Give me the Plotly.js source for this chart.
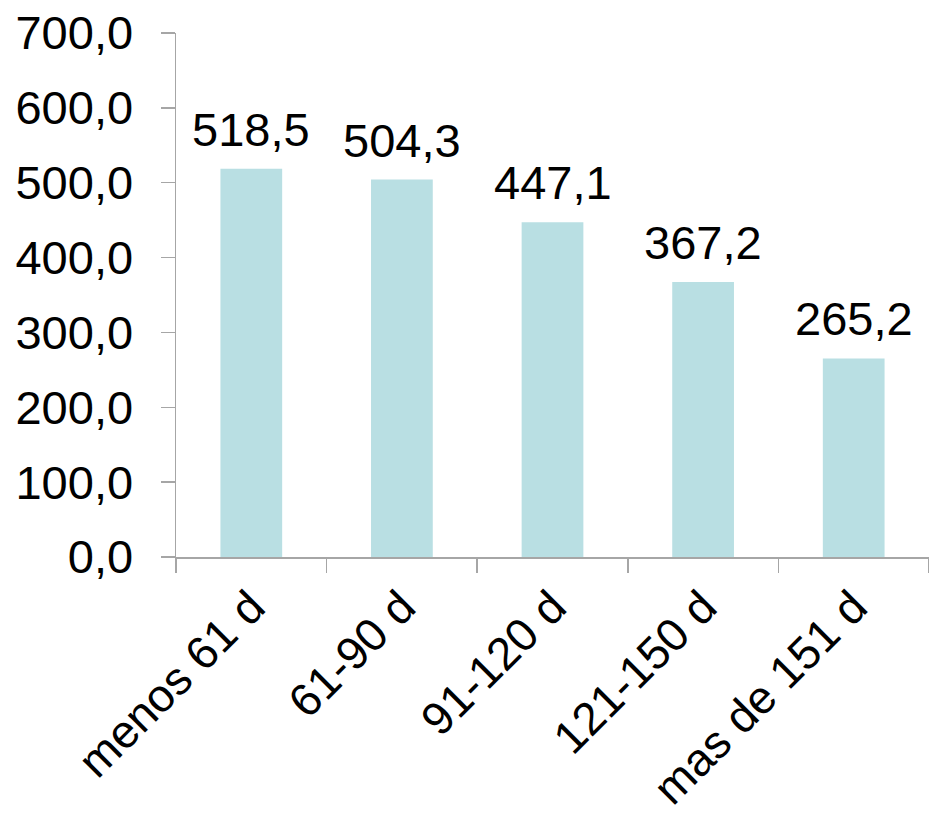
<!DOCTYPE html>
<html><head><meta charset="utf-8">
<script src="https://cdn.plot.ly/plotly-3.0.1.min.js"></script>
<style>body{margin:0;background:#fff}#c{width:929px;height:821px}</style>
</head><body><div id="c"></div>
<script>
const categories = ["menos 61 d", "61-90 d", "91-120 d", "121-150 d", "mas de 151 d"];
const values = [518.5, 504.3, 447.1, 367.2, 265.2];
const labels = values.map(v => v.toFixed(1).replace('.', ','));
const FONT = 'Liberation Sans, Arial, sans-serif';

const trace = {
  type: 'bar', x: categories, y: values,
  marker: {color: 'rgb(185,223,227)'}, width: 0.41, hoverinfo: 'none'
};
const annotations = categories.map((c, i) => ({
  x: c, y: values[i], text: labels[i], showarrow: false,
  xanchor: 'center', yanchor: 'bottom', yshift: 11,
  font: {family: FONT, size: 47, color: '#000'}
}));
const layout = {
  width: 929, height: 821, separators: ',.',
  margin: {l: 176, r: 0, t: 33, b: 264},
  paper_bgcolor: '#fff', plot_bgcolor: '#fff', showlegend: false,
  font: {family: FONT, size: 47, color: '#000'},
  annotations: annotations,
  xaxis: {type: 'category', tickangle: -45, showline: true, linecolor: '#a6a6a6', linewidth: 1.5,
          ticks: 'outside', tickson: 'boundaries', ticklen: 14, tickcolor: '#a6a6a6', tickwidth: 1.5,
          showgrid: false, tickfont: {size: 46}, ticklabelstandoff: 3},
  yaxis: {range: [0, 700], dtick: 100, tickformat: '.1f', showline: true, linecolor: '#a6a6a6', linewidth: 1.5,
          ticks: 'outside', ticklen: 14, tickcolor: '#a6a6a6', tickwidth: 1.5, showgrid: false,
          zeroline: false, tickfont: {size: 47}, ticklabelstandoff: 18}
};
Plotly.newPlot('c', [trace], layout, {displayModeBar: false, staticPlot: true});
</script></body></html>
